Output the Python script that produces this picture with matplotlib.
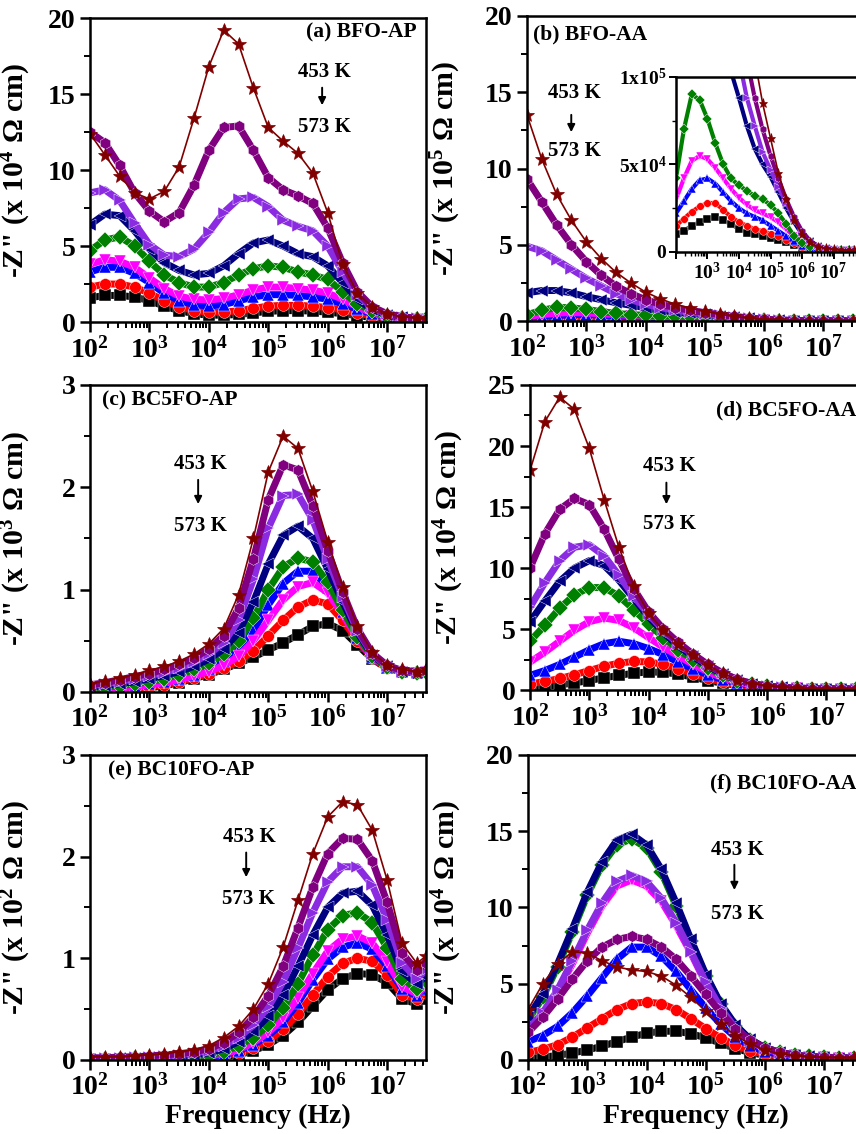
import numpy as np
import matplotlib
matplotlib.use('Agg')
import matplotlib.pyplot as plt
from matplotlib.ticker import AutoMinorLocator, LogLocator, NullFormatter, FixedLocator

plt.rcParams['font.family'] = 'Liberation Serif'
plt.rcParams['font.weight'] = 'bold'
plt.rcParams['axes.labelweight'] = 'bold'
plt.rcParams['mathtext.fontset'] = 'custom'
plt.rcParams['mathtext.rm'] = 'Liberation Serif:bold'
plt.rcParams['mathtext.it'] = 'Liberation Serif:bold:italic'
plt.rcParams['mathtext.bf'] = 'Liberation Serif:bold'
plt.rcParams['mathtext.default'] = 'regular'

# measurement frequencies (Hz)
freq = [1.00e2, 1.78e2, 3.16e2, 5.62e2, 1.00e3, 1.78e3, 3.16e3, 5.62e3,
        1.00e4, 1.78e4, 3.16e4, 5.62e4, 1.00e5, 1.78e5, 3.16e5, 5.62e5,
        1.00e6, 1.78e6, 3.16e6, 5.62e6, 1.00e7, 1.78e7, 3.16e7, 4.47e7]

temps = [453, 468, 483, 498, 513, 528, 543, 558, 573]
colors = ['#800000', '#800080', '#8A2BE2', '#000080', '#008000', '#FF00FF', '#0000FF', '#FF0000', '#000000']
markers = ['*', 'h', '>', '<', 'D', 'v', '^', 'o', 's']

# -Z'' for each temperature (rows follow temps), in the unit of each panel
z_bfo_ap = [  # x 10^4
    [12.4, 11.0, 9.6, 8.5, 8.1, 8.6, 10.2, 13.4, 16.8, 19.2, 18.3, 15.4, 12.8, 11.9, 11.1, 9.8, 7.2, 3.8, 1.9, 1.0, 0.55, 0.35, 0.25, 0.2],
    [12.5, 11.8, 10.3, 8.5, 7.3, 6.6, 7.2, 9.0, 11.3, 12.8, 12.9, 11.3, 9.5, 8.7, 8.3, 7.8, 6.2, 3.9, 2.0, 1.0, 0.55, 0.35, 0.25, 0.2],
    [8.5, 8.7, 8.0, 6.5, 5.1, 4.4, 4.3, 4.8, 5.9, 7.2, 8.1, 8.2, 7.6, 6.7, 6.3, 6.0, 5.0, 3.3, 1.8, 0.95, 0.5, 0.33, 0.25, 0.2],
    [6.4, 7.1, 7.0, 6.0, 4.8, 3.9, 3.4, 3.1, 3.2, 3.7, 4.5, 5.2, 5.4, 5.0, 4.5, 4.3, 3.7, 2.6, 1.5, 0.8, 0.45, 0.3, 0.22, 0.2],
    [4.7, 5.4, 5.6, 5.0, 4.0, 3.1, 2.6, 2.3, 2.3, 2.6, 3.1, 3.5, 3.7, 3.6, 3.3, 3.1, 2.8, 2.0, 1.2, 0.7, 0.4, 0.28, 0.2, 0.18],
    [3.8, 4.1, 4.0, 3.6, 2.9, 2.2, 1.7, 1.5, 1.45, 1.55, 1.8, 2.1, 2.3, 2.3, 2.2, 2.1, 1.9, 1.5, 1.0, 0.6, 0.35, 0.25, 0.2, 0.18],
    [3.3, 3.6, 3.6, 3.2, 2.6, 1.9, 1.4, 1.15, 1.05, 1.15, 1.4, 1.65, 1.8, 1.8, 1.75, 1.65, 1.5, 1.2, 0.85, 0.55, 0.33, 0.23, 0.18, 0.17],
    [2.3, 2.5, 2.5, 2.3, 1.9, 1.4, 1.0, 0.75, 0.65, 0.65, 0.75, 0.9, 1.05, 1.1, 1.1, 1.05, 0.95, 0.8, 0.6, 0.4, 0.28, 0.2, 0.17, 0.15],
    [1.6, 1.75, 1.75, 1.65, 1.4, 1.05, 0.75, 0.55, 0.45, 0.45, 0.5, 0.6, 0.7, 0.75, 0.75, 0.72, 0.65, 0.55, 0.42, 0.3, 0.22, 0.17, 0.14, 0.13],
]
z_bfo_aa = [  # x 10^5
    [13.5, 10.6, 8.3, 6.6, 5.2, 4.1, 3.2, 2.5, 1.9, 1.45, 1.1, 0.85, 0.65, 0.45, 0.3, 0.18, 0.1, 0.055, 0.03, 0.02, 0.015, 0.01, 0.01, 0.01],
    [9.3, 7.8, 6.3, 5.0, 3.9, 3.0, 2.3, 1.8, 1.4, 1.1, 0.88, 0.7, 0.55, 0.42, 0.3, 0.2, 0.12, 0.065, 0.035, 0.02, 0.015, 0.01, 0.01, 0.01],
    [4.9, 4.6, 4.0, 3.4, 2.8, 2.3, 1.8, 1.4, 1.1, 0.88, 0.72, 0.57, 0.47, 0.37, 0.28, 0.19, 0.11, 0.06, 0.035, 0.02, 0.015, 0.01, 0.01, 0.01],
    [1.85, 2.0, 2.0, 1.85, 1.6, 1.4, 1.2, 1.03, 0.88, 0.72, 0.59, 0.5, 0.43, 0.34, 0.25, 0.17, 0.1, 0.06, 0.035, 0.02, 0.015, 0.01, 0.01, 0.01],
    [0.42, 0.7, 0.9, 0.87, 0.76, 0.62, 0.5, 0.42, 0.38, 0.35, 0.32, 0.3, 0.27, 0.22, 0.16, 0.09, 0.05, 0.03, 0.02, 0.015, 0.01, 0.01, 0.01, 0.01],
    [0.3, 0.42, 0.52, 0.55, 0.53, 0.48, 0.42, 0.36, 0.31, 0.27, 0.24, 0.22, 0.2, 0.17, 0.13, 0.09, 0.05, 0.03, 0.02, 0.015, 0.01, 0.01, 0.01, 0.01],
    [0.22, 0.29, 0.36, 0.41, 0.42, 0.39, 0.34, 0.29, 0.25, 0.22, 0.2, 0.18, 0.15, 0.12, 0.09, 0.06, 0.035, 0.02, 0.015, 0.01, 0.01, 0.01, 0.01, 0.01],
    [0.15, 0.19, 0.23, 0.26, 0.28, 0.28, 0.24, 0.2, 0.17, 0.15, 0.13, 0.12, 0.105, 0.09, 0.07, 0.05, 0.03, 0.02, 0.012, 0.01, 0.01, 0.01, 0.01, 0.01],
    [0.1, 0.12, 0.15, 0.17, 0.19, 0.2, 0.18, 0.16, 0.13, 0.11, 0.1, 0.09, 0.08, 0.07, 0.055, 0.04, 0.025, 0.015, 0.01, 0.01, 0.01, 0.01, 0.01, 0.01],
]
z_bc5_ap = [  # x 10^3
    [0.08, 0.11, 0.14, 0.17, 0.21, 0.25, 0.3, 0.37, 0.47, 0.62, 0.95, 1.5, 2.15, 2.5, 2.38, 1.96, 1.47, 1.03, 0.64, 0.39, 0.26, 0.22, 0.2, 0.22],
    [0.07, 0.09, 0.12, 0.15, 0.18, 0.22, 0.27, 0.33, 0.42, 0.55, 0.82, 1.3, 1.88, 2.22, 2.17, 1.82, 1.38, 0.98, 0.62, 0.38, 0.26, 0.21, 0.2, 0.21],
    [0.06, 0.08, 0.1, 0.13, 0.16, 0.19, 0.23, 0.29, 0.37, 0.48, 0.7, 1.1, 1.6, 1.92, 1.93, 1.68, 1.3, 0.93, 0.6, 0.37, 0.25, 0.2, 0.19, 0.2],
    [0.05, 0.06, 0.08, 0.1, 0.13, 0.16, 0.2, 0.25, 0.32, 0.42, 0.58, 0.88, 1.25, 1.53, 1.62, 1.5, 1.2, 0.88, 0.58, 0.36, 0.25, 0.2, 0.19, 0.2],
    [0.04, 0.05, 0.06, 0.08, 0.1, 0.13, 0.17, 0.22, 0.28, 0.37, 0.5, 0.72, 1.0, 1.22, 1.31, 1.27, 1.07, 0.8, 0.54, 0.35, 0.24, 0.2, 0.19, 0.2],
    [0.02, 0.03, 0.04, 0.05, 0.07, 0.09, 0.12, 0.16, 0.2, 0.26, 0.35, 0.5, 0.7, 0.9, 1.03, 1.07, 0.97, 0.76, 0.52, 0.34, 0.24, 0.2, 0.19, 0.2],
    [0.03, 0.04, 0.05, 0.06, 0.08, 0.1, 0.13, 0.17, 0.22, 0.3, 0.41, 0.6, 0.85, 1.06, 1.18, 1.18, 1.02, 0.78, 0.53, 0.34, 0.24, 0.2, 0.19, 0.2],
    [0.02, 0.02, 0.03, 0.04, 0.05, 0.07, 0.1, 0.14, 0.18, 0.23, 0.3, 0.4, 0.55, 0.7, 0.83, 0.9, 0.86, 0.7, 0.5, 0.33, 0.23, 0.2, 0.19, 0.2],
    [0.01, 0.01, 0.02, 0.03, 0.04, 0.06, 0.09, 0.13, 0.17, 0.22, 0.28, 0.34, 0.41, 0.48, 0.56, 0.64, 0.67, 0.6, 0.46, 0.32, 0.23, 0.2, 0.19, 0.2],
]
z_bc5_aa = [  # x 10^4
    [18.0, 22.0, 24.0, 23.0, 19.8, 15.6, 11.7, 8.5, 6.3, 4.9, 3.8, 2.9, 2.05, 1.37, 0.85, 0.52, 0.33, 0.22, 0.16, 0.12, 0.1, 0.09, 0.08, 0.08],
    [10.0, 12.8, 14.8, 15.7, 15.2, 13.2, 10.7, 8.3, 6.4, 5.0, 3.9, 2.95, 2.1, 1.4, 0.87, 0.53, 0.33, 0.22, 0.16, 0.12, 0.1, 0.09, 0.08, 0.08],
    [6.8, 8.8, 10.6, 11.7, 11.9, 11.0, 9.4, 7.7, 6.2, 4.9, 3.8, 2.9, 2.05, 1.38, 0.85, 0.52, 0.33, 0.22, 0.16, 0.12, 0.1, 0.09, 0.08, 0.08],
    [5.6, 7.3, 8.9, 10.0, 10.6, 10.2, 9.0, 7.5, 6.0, 4.7, 3.6, 2.75, 1.95, 1.3, 0.8, 0.5, 0.32, 0.21, 0.15, 0.12, 0.1, 0.09, 0.08, 0.08],
    [4.0, 5.3, 6.7, 7.8, 8.4, 8.4, 7.7, 6.6, 5.4, 4.3, 3.3, 2.5, 1.8, 1.2, 0.75, 0.47, 0.3, 0.2, 0.15, 0.12, 0.1, 0.09, 0.08, 0.08],
    [2.3, 3.1, 4.0, 4.9, 5.6, 5.9, 5.7, 5.1, 4.3, 3.5, 2.8, 2.1, 1.5, 1.0, 0.65, 0.42, 0.27, 0.19, 0.14, 0.11, 0.1, 0.09, 0.08, 0.08],
    [1.2, 1.6, 2.1, 2.7, 3.3, 3.8, 4.0, 3.8, 3.4, 2.9, 2.3, 1.75, 1.25, 0.85, 0.55, 0.35, 0.23, 0.17, 0.13, 0.11, 0.1, 0.09, 0.08, 0.08],
    [0.5, 0.7, 0.95, 1.25, 1.6, 1.95, 2.2, 2.35, 2.3, 2.1, 1.75, 1.35, 0.95, 0.65, 0.43, 0.28, 0.18, 0.14, 0.11, 0.1, 0.09, 0.08, 0.08, 0.08],
    [0.2, 0.3, 0.42, 0.58, 0.78, 1.0, 1.2, 1.38, 1.48, 1.45, 1.3, 1.05, 0.78, 0.55, 0.37, 0.24, 0.15, 0.12, 0.1, 0.09, 0.08, 0.08, 0.07, 0.07],
]
z_bc10_ap = [  # x 10^2
    [0.03, 0.03, 0.03, 0.04, 0.05, 0.06, 0.08, 0.1, 0.14, 0.22, 0.33, 0.5, 0.75, 1.11, 1.57, 2.03, 2.39, 2.54, 2.51, 2.26, 1.77, 1.15, 0.95, 1.02],
    [0.02, 0.02, 0.03, 0.03, 0.04, 0.05, 0.06, 0.08, 0.11, 0.17, 0.27, 0.42, 0.63, 0.92, 1.3, 1.7, 2.03, 2.18, 2.17, 1.96, 1.55, 1.05, 0.88, 0.95],
    [0.02, 0.02, 0.02, 0.03, 0.03, 0.04, 0.05, 0.07, 0.09, 0.14, 0.22, 0.34, 0.52, 0.77, 1.1, 1.45, 1.75, 1.9, 1.9, 1.72, 1.38, 0.95, 0.8, 0.88],
    [0.01, 0.01, 0.02, 0.02, 0.03, 0.03, 0.04, 0.05, 0.07, 0.11, 0.18, 0.28, 0.43, 0.64, 0.92, 1.23, 1.5, 1.64, 1.66, 1.52, 1.23, 0.87, 0.75, 0.82],
    [0.01, 0.01, 0.01, 0.02, 0.02, 0.02, 0.03, 0.04, 0.05, 0.08, 0.14, 0.22, 0.34, 0.51, 0.75, 1.03, 1.28, 1.42, 1.45, 1.35, 1.1, 0.8, 0.7, 0.78],
    [0.01, 0.01, 0.01, 0.01, 0.01, 0.02, 0.02, 0.03, 0.04, 0.06, 0.1, 0.17, 0.27, 0.41, 0.61, 0.85, 1.07, 1.19, 1.22, 1.15, 0.96, 0.72, 0.65, 0.72],
    [0.01, 0.01, 0.01, 0.01, 0.01, 0.01, 0.02, 0.02, 0.03, 0.05, 0.09, 0.15, 0.24, 0.37, 0.56, 0.79, 0.99, 1.11, 1.15, 1.09, 0.92, 0.7, 0.63, 0.7],
    [0.01, 0.01, 0.01, 0.01, 0.01, 0.01, 0.01, 0.02, 0.02, 0.04, 0.07, 0.12, 0.19, 0.3, 0.45, 0.64, 0.82, 0.95, 1.0, 0.97, 0.84, 0.64, 0.6, 0.66],
    [0.0, 0.0, 0.01, 0.01, 0.01, 0.01, 0.01, 0.01, 0.02, 0.03, 0.05, 0.09, 0.15, 0.24, 0.37, 0.53, 0.69, 0.8, 0.85, 0.84, 0.76, 0.6, 0.55, 0.6],
]
z_bc10_aa = [  # x 10^4
    [3.3, 5.0, 6.3, 7.1, 7.0, 6.5, 6.1, 5.9, 5.8, 5.5, 4.9, 4.1, 3.2, 2.35, 1.6, 1.05, 0.65, 0.42, 0.28, 0.2, 0.16, 0.14, 0.12, 0.11],
    [1.8, 2.8, 4.0, 5.3, 6.5, 7.4, 7.9, 8.1, 7.9, 7.4, 6.6, 5.5, 4.3, 3.1, 2.05, 1.3, 0.8, 0.5, 0.32, 0.22, 0.17, 0.14, 0.12, 0.11],
    [2.0, 3.1, 4.6, 6.5, 8.5, 10.3, 11.7, 12.1, 11.7, 10.6, 9.0, 7.1, 5.1, 3.4, 2.1, 1.25, 0.75, 0.47, 0.31, 0.22, 0.17, 0.14, 0.12, 0.11],
    [2.8, 4.3, 6.3, 8.6, 11.0, 13.0, 14.4, 14.8, 14.1, 12.5, 10.3, 7.9, 5.6, 3.7, 2.3, 1.35, 0.8, 0.5, 0.33, 0.23, 0.18, 0.15, 0.13, 0.12],
    [2.6, 4.1, 6.1, 8.4, 10.8, 12.8, 14.1, 14.5, 13.9, 12.3, 10.1, 7.8, 5.5, 3.65, 2.25, 1.32, 0.78, 0.49, 0.32, 0.23, 0.18, 0.15, 0.13, 0.12],
    [1.9, 3.0, 4.5, 6.3, 8.3, 10.1, 11.4, 11.8, 11.4, 10.4, 8.8, 7.0, 5.0, 3.35, 2.05, 1.22, 0.73, 0.46, 0.3, 0.21, 0.17, 0.14, 0.12, 0.11],
    [1.2, 1.6, 2.2, 3.1, 4.2, 5.4, 6.6, 7.4, 7.4, 6.8, 5.8, 4.6, 3.4, 2.35, 1.5, 0.92, 0.55, 0.36, 0.25, 0.19, 0.15, 0.13, 0.12, 0.11],
    [0.5, 0.7, 1.0, 1.5, 2.1, 2.7, 3.3, 3.7, 3.8, 3.7, 3.3, 2.7, 2.05, 1.45, 0.95, 0.6, 0.37, 0.25, 0.18, 0.15, 0.13, 0.12, 0.11, 0.1],
    [0.1, 0.18, 0.3, 0.45, 0.65, 0.9, 1.2, 1.5, 1.75, 1.88, 1.88, 1.72, 1.45, 1.1, 0.75, 0.48, 0.3, 0.2, 0.15, 0.12, 0.11, 0.1, 0.1, 0.1],
]

fig = plt.figure(figsize=(8.56, 11.34), dpi=100)

# [left, bottom, width, height] in figure fraction; right column runs past the edge like the original
panels = [
    dict(z=z_bfo_ap, pos=[0.1051, 0.7160, 0.3925, 0.2681], ymax=20, ystep=5, exp=4,
         tag='(a) BFO-AP', tag_xy=(0.973, 0.951), tag_ha='right',
         ann_x=0.699, ann_y=(0.822, 0.780, 0.704, 0.641)),
    dict(z=z_bfo_aa, pos=[0.6157, 0.7169, 0.3914, 0.2690], ymax=20, ystep=5, exp=5,
         tag='(b) BFO-AA', tag_xy=(0.018, 0.938), tag_ha='left',
         ann_x=0.140, ann_y=(0.749, 0.685, 0.610, 0.557)),
    dict(z=z_bc5_ap, pos=[0.1051, 0.3898, 0.3925, 0.2707], ymax=3, ystep=1, exp=3,
         tag='(c) BC5FO-AP', tag_xy=(0.036, 0.951), tag_ha='left',
         ann_x=0.330, ann_y=(0.741, 0.700, 0.603, 0.542)),
    dict(z=z_bc5_aa, pos=[0.6192, 0.3915, 0.3914, 0.2690], ymax=25, ystep=5, exp=4,
         tag='(d) BC5FO-AA', tag_xy=(0.973, 0.915), tag_ha='right',
         ann_x=0.415, ann_y=(0.734, 0.689, 0.600, 0.543)),
    dict(z=z_bc10_ap, pos=[0.1051, 0.0653, 0.3925, 0.2690], ymax=3, ystep=1, exp=2,
         tag='(e) BC10FO-AP', tag_xy=(0.054, 0.948), tag_ha='left',
         ann_x=0.473, ann_y=(0.730, 0.689, 0.590, 0.526)),
    dict(z=z_bc10_aa, pos=[0.6168, 0.0653, 0.3914, 0.2690], ymax=20, ystep=5, exp=4,
         tag='(f) BC10FO-AA', tag_xy=(0.979, 0.907), tag_ha='right',
         ann_x=0.624, ann_y=(0.689, 0.649, 0.548, 0.477)),
]

def draw_series(ax, z, scale=1.0, ms=8.5, lw=5.0, star_ms=10):
    # highest temperature first so 453 K ends on top
    for i in range(len(temps) - 1, -1, -1):
        y = np.array(z[i]) * scale
        if markers[i] == '*':
            ax.plot(freq, y, color=colors[i], lw=1.2, marker='*', ms=star_ms,
                    mec=colors[i], mew=0.5)
        else:
            ax.plot(freq, y, color=colors[i], lw=lw, marker=markers[i], ms=ms,
                    mec='white', mew=0.3)

def style_axes(ax, tick_size=20):
    for s in ax.spines.values():
        s.set_linewidth(1.8)
    ax.tick_params(which='major', direction='out', length=7, width=1.8,
                   labelsize=tick_size, top=False, right=False)
    ax.tick_params(which='minor', direction='out', length=4, width=1.4,
                   top=False, right=False)

for k, p in enumerate(panels):
    ax = fig.add_axes(p['pos'])
    draw_series(ax, p['z'])
    ax.set_xscale('log')
    ax.set_xlim(1e2, 4.5e7)
    ax.set_ylim(0, p['ymax'])
    ax.set_yticks(np.arange(0, p['ymax'] + 0.1, p['ystep']))
    ax.yaxis.set_minor_locator(AutoMinorLocator(2))
    ax.xaxis.set_major_locator(LogLocator(base=10, numticks=12))
    ax.xaxis.set_minor_locator(LogLocator(base=10, subs=np.arange(2, 10), numticks=12))
    ax.xaxis.set_minor_formatter(NullFormatter())
    style_axes(ax)
    ax.set_ylabel('-Z" (x 10$^{%d}$ Ω cm)' % p['exp'], fontsize=21.5)
    ax.yaxis.set_label_coords(-0.17 if k % 2 == 0 else -0.19, 0.5)
    if k >= 4:
        ax.set_xlabel('Frequency (Hz)', fontsize=20, labelpad=2)
    ax.text(p['tag_xy'][0], p['tag_xy'][1], p['tag'], transform=ax.transAxes,
            ha=p['tag_ha'], va='center', fontsize=15.5)
    ax_x = p['ann_x']
    y1, a0, a1, y2 = p['ann_y']
    ax.text(ax_x, y1, '453 K', transform=ax.transAxes, ha='center', va='center', fontsize=15)
    ax.text(ax_x, y2, '573 K', transform=ax.transAxes, ha='center', va='center', fontsize=15)
    ax.annotate('', xy=(ax_x - 0.008, a1), xytext=(ax_x - 0.008, a0),
                xycoords='axes fraction', textcoords='axes fraction',
                arrowprops=dict(arrowstyle='-|>', color='black', lw=1.4, mutation_scale=11))

# inset of panel (b): same data in absolute units
axi = fig.add_axes([0.7897, 0.7778, 0.2173, 0.1543])
draw_series(axi, z_bfo_aa, scale=1e5, ms=5.5, lw=3.0, star_ms=6.5)
axi.set_xscale('log')
axi.set_xlim(1e2, 8e7)
axi.set_ylim(0, 1e5)
axi.set_yticks([0, 5e4, 1e5])
axi.set_yticklabels(['0', '5x10$^{4}$', '1x10$^{5}$'])
axi.yaxis.set_minor_locator(FixedLocator([2.5e4, 7.5e4]))
axi.set_xticks([1e2, 1e3, 1e4, 1e5, 1e6, 1e7])
axi.set_xticklabels(['', '10$^{3}$', '10$^{4}$', '10$^{5}$', '10$^{6}$', '10$^{7}$'])
axi.xaxis.set_minor_locator(LogLocator(base=10, subs=np.arange(2, 10), numticks=12))
axi.xaxis.set_minor_formatter(NullFormatter())
style_axes(axi, tick_size=14)
axi.tick_params(which='major', length=5, width=1.4, pad=2)
axi.tick_params(which='minor', length=3, width=1.0)

fig.savefig('out.png', dpi=100)
